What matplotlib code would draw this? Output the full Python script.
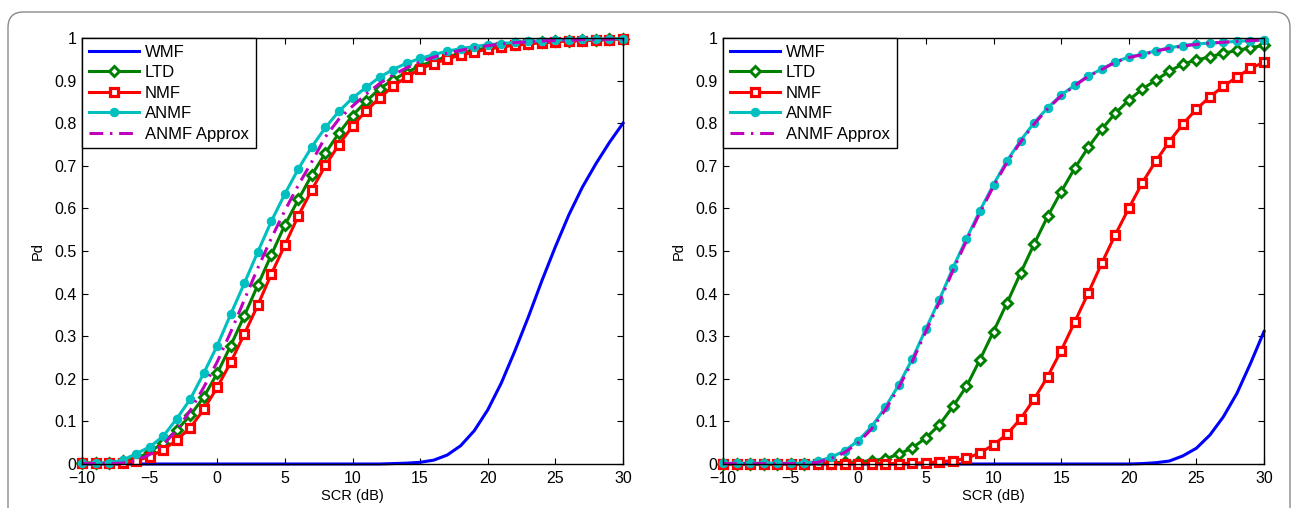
import matplotlib
matplotlib.use("Agg")
import matplotlib.pyplot as plt
from matplotlib.patches import FancyBboxPatch
import numpy as np

plt.rcParams['font.family'] = ['Liberation Sans', 'DejaVu Sans']

scr = list(range(-10, 31))  # SCR (dB)

# ---------------- Left panel ----------------
L_wmf = [0]*23 + [0.001, 0.002, 0.004, 0.009, 0.021, 0.043, 0.078, 0.127, 0.19,
                  0.265, 0.345, 0.43, 0.51, 0.585, 0.65, 0.705, 0.755, 0.80]
L_ltd = [0.002, 0.002, 0.002, 0.006, 0.013, 0.028, 0.05, 0.079, 0.114, 0.157,
         0.213, 0.278, 0.348, 0.420, 0.491, 0.561, 0.621, 0.679, 0.730, 0.777,
         0.818, 0.851, 0.881, 0.902, 0.919, 0.935, 0.946, 0.956, 0.964, 0.971,
         0.977, 0.981, 0.985, 0.988, 0.990, 0.992, 0.994, 0.995, 0.996, 0.997, 0.997]
L_nmf = [0.002, 0.002, 0.002, 0.003, 0.008, 0.017, 0.033, 0.056, 0.085, 0.128,
         0.180, 0.239, 0.305, 0.373, 0.446, 0.514, 0.583, 0.644, 0.701, 0.750,
         0.793, 0.829, 0.859, 0.887, 0.908, 0.928, 0.940, 0.951, 0.960, 0.967,
         0.974, 0.979, 0.983, 0.986, 0.989, 0.991, 0.993, 0.994, 0.995, 0.996, 0.997]
L_anmf = [0.002, 0.002, 0.003, 0.009, 0.024, 0.040, 0.065, 0.106, 0.152, 0.213,
          0.278, 0.352, 0.424, 0.498, 0.570, 0.634, 0.693, 0.745, 0.790, 0.828,
          0.859, 0.884, 0.908, 0.926, 0.941, 0.952, 0.961, 0.969, 0.975, 0.980,
          0.984, 0.987, 0.990, 0.992, 0.994, 0.995, 0.996, 0.997, 0.997, 0.998, 0.998]
L_approx = [0.001, 0.001, 0.001, 0.002, 0.008, 0.022, 0.045, 0.080, 0.125, 0.180,
            0.240, 0.310, 0.385, 0.460, 0.530, 0.595, 0.655, 0.710, 0.768, 0.810,
            0.840, 0.868, 0.893, 0.913, 0.930, 0.944, 0.955, 0.964, 0.971, 0.977,
            0.982, 0.986, 0.989, 0.991, 0.993, 0.994, 0.995, 0.996, 0.996, 0.997, 0.997]

# ---------------- Right panel ----------------
R_wmf = [0]*31 + [0.001, 0.003, 0.007, 0.019, 0.037, 0.068, 0.111, 0.166, 0.236, 0.311]
R_ltd = [0.001, 0.001, 0.001, 0.001, 0.001, 0.001, 0.001, 0.002, 0.003, 0.004,
         0.005, 0.008, 0.012, 0.023, 0.038, 0.061, 0.092, 0.135, 0.182, 0.245,
         0.311, 0.378, 0.448, 0.516, 0.581, 0.639, 0.694, 0.743, 0.786, 0.823,
         0.854, 0.880, 0.901, 0.922, 0.939, 0.948, 0.956, 0.964, 0.971, 0.977, 0.983]
R_nmf = [0.001, 0.001, 0.001, 0.001, 0.001, 0.001, 0.001, 0.001, 0.001, 0.001,
         0.001, 0.001, 0.001, 0.001, 0.002, 0.003, 0.005, 0.008, 0.013, 0.026,
         0.045, 0.070, 0.106, 0.152, 0.205, 0.266, 0.333, 0.401, 0.471, 0.538,
         0.600, 0.660, 0.711, 0.757, 0.798, 0.833, 0.862, 0.887, 0.908, 0.929, 0.943]
R_anmf = [0.002, 0.002, 0.002, 0.002, 0.002, 0.002, 0.002, 0.006, 0.016, 0.031,
          0.055, 0.088, 0.133, 0.186, 0.247, 0.317, 0.386, 0.460, 0.529, 0.595,
          0.656, 0.712, 0.759, 0.801, 0.836, 0.866, 0.889, 0.911, 0.927, 0.944,
          0.955, 0.962, 0.970, 0.977, 0.982, 0.986, 0.988, 0.990, 0.992, 0.994, 0.995]
R_approx = [0.001, 0.001, 0.001, 0.001, 0.001, 0.001, 0.001, 0.004, 0.013, 0.027,
            0.050, 0.083, 0.127, 0.180, 0.241, 0.311, 0.380, 0.454, 0.524, 0.590,
            0.652, 0.708, 0.756, 0.798, 0.834, 0.864, 0.888, 0.910, 0.926, 0.943,
            0.954, 0.961, 0.969, 0.976, 0.981, 0.985, 0.988, 0.990, 0.992, 0.994, 0.995]

labels = ['WMF', 'LTD', 'NMF', 'ANMF', 'ANMF Approx']
xticks = [-10, -5, 0, 5, 10, 15, 20, 25, 30]
yticks = [0, 0.1, 0.2, 0.3, 0.4, 0.5, 0.6, 0.7, 0.8, 0.9, 1]
ytick_labels = ['0', '0.1', '0.2', '0.3', '0.4', '0.5', '0.6', '0.7', '0.8', '0.9', '1']

C_B = (0, 0, 1)
C_G = (0, 0.5, 0)
C_R = (1, 0, 0)
C_C = (0, 0.75, 0.75)
C_M = (0.75, 0, 0.75)

W, H = 1292, 508
fig = plt.figure(figsize=(W/100, H/100), dpi=100)

# outer rounded frame
frame = FancyBboxPatch((8/W, -0.2), (1290-8)/W, (508-12)/H + 0.2,
                       boxstyle="round,pad=0,rounding_size=0.012",
                       transform=fig.transFigure, fill=False,
                       edgecolor='#8a8a8a', linewidth=1.0, mutation_aspect=W/H)
fig.patches.append(frame)

ax_w = 541/W
ax_h = 426/H
ax_b = 44/H
axes = [fig.add_axes([82/W, ax_b, ax_w, ax_h]),
        fig.add_axes([723/W, ax_b, ax_w, ax_h])]

lw = 2.2
datasets = [(L_wmf, L_ltd, L_nmf, L_anmf, L_approx),
            (R_wmf, R_ltd, R_nmf, R_anmf, R_approx)]

for ax, (wmf, ltd, nmf, anmf, approx) in zip(axes, datasets):
    ax.plot(scr, wmf, '-', color=C_B, lw=lw, label=labels[0])
    ax.plot(scr, ltd, '-', color=C_G, lw=lw, marker='D', ms=5.5,
            mfc='white', mec=C_G, mew=2.1, label=labels[1])
    ax.plot(scr, nmf, '-', color=C_R, lw=lw, marker='s', ms=5.4,
            mfc='white', mec=C_R, mew=2.3, label=labels[2])
    ax.plot(scr, anmf, '-', color=C_C, lw=lw, marker='o', ms=6.0,
            mfc=C_C, mec=C_C, mew=0.8, label=labels[3])
    ax.plot(scr, approx, '-.', color=C_M, lw=lw, dashes=(4.5, 2.2, 0.8, 2.2),
            label=labels[4])
    ax.set_xlim(-10, 30)
    ax.set_ylim(0, 1)
    ax.set_xticks(xticks)
    ax.set_xticklabels([str(t).replace('-', '\u2212') for t in xticks])
    ax.set_yticks(yticks)
    ax.set_yticklabels(ytick_labels)
    ax.tick_params(axis='both', direction='in', length=4, width=0.8,
                   top=True, right=True, labelsize=11.5, colors='black')
    ax.tick_params(axis='x', pad=5)
    ax.tick_params(axis='y', pad=4)
    for s in ax.spines.values():
        s.set_linewidth(1.0)
        s.set_color('black')
    ax.set_xlabel('SCR (dB)', fontsize=10.5, labelpad=2)
    ax.set_ylabel('Pd', fontsize=10.5, labelpad=7)
    for ln in ax.get_lines():
        ln.set_clip_on(False)
    leg = ax.legend(loc='upper left', borderaxespad=0, fontsize=12,
                    numpoints=1, handlelength=3.0, handletextpad=0.38,
                    labelspacing=0.33, borderpad=0.4, fancybox=False,
                    framealpha=1, edgecolor='black')
    leg.get_frame().set_linewidth(1.0)

fig.savefig('out.png', dpi=100)
